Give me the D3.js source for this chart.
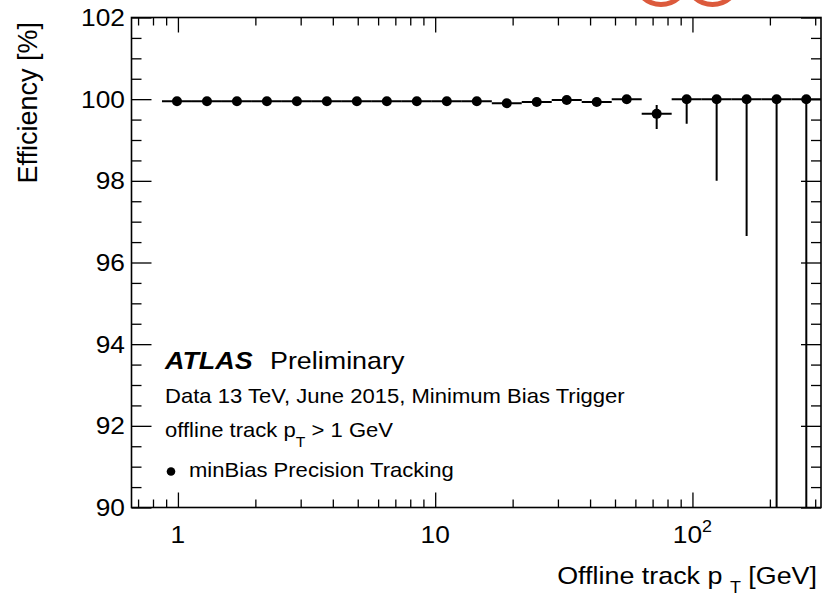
<!DOCTYPE html>
<html lang="en">

<head>
  <meta charset="UTF-8">
  <title>Efficiency</title>
  <style>
    body { margin: 0; background: #fff; }
    text { font-family: "Liberation Sans", Arial, Helvetica, sans-serif; fill: #000; }
  </style>
</head>

<body>
  <svg></svg>
  <script src="https://cdn.jsdelivr.net/npm/d3@7"></script>
  <script>
    // bin edges of the pT histogram (GeV)
    var binEdges = [0.867, 1.134, 1.483, 1.939, 2.536, 3.317, 4.338, 5.673, 7.419, 9.703, 12.69,
      16.60, 21.70, 28.38, 37.12, 48.55, 63.49, 83.03, 108.6, 142.0, 185.7, 242.9, 316];
    // efficiency per bin [%]
    var efficiency = [99.95, 99.95, 99.95, 99.95, 99.95, 99.95, 99.95, 99.95, 99.95, 99.95, 99.95,
      99.90, 99.93, 99.98, 99.93, 100.0, 99.64, 100.0, 100.0, 100.0, 100.0, 100.0];
    var errUp = [0.01, 0.01, 0.01, 0.01, 0.01, 0.01, 0.01, 0.01, 0.01, 0.01, 0.02,
      0.02, 0.02, 0.02, 0.03, 0, 0.22, 0, 0, 0, 0, 0];
    var errDown = [0.01, 0.01, 0.01, 0.01, 0.01, 0.01, 0.01, 0.01, 0.01, 0.01, 0.02,
      0.03, 0.03, 0.03, 0.04, 0.05, 0.37, 0.6, 2.0, 3.35, 60, 80];

    var yTicks = [90, 92, 94, 96, 98, 100, 102];
    var xMajor = [1, 10, 100];
    var xLabels = ["1", "10", "10^2"];

    var width = 823, height = 598;
    // plot frame (pixels)
    var fL = 131.5, fR = 821, fT = 17.5, fB = 507.5;
    var sx = 1.12; // horizontal stretch of the lettering

    var svg = d3.select("svg")
      .attr("width", width)
      .attr("height", height);

    var x = d3.scaleLog().domain([0.66, 316]).range([fL, fR]);
    var y = d3.scaleLinear().domain([90, 102]).range([fB, fT]);

    function label(g, px, py, size, anchor) {
      return g.append("text")
        .attr("transform", "translate(" + px + "," + py + ") scale(" + sx + ",1)")
        .attr("font-size", size + "px")
        .attr("text-anchor", anchor || "start");
    }

    // red circles cut off at the top
    svg.append("g").selectAll("circle")
      .data([661, 712.5])
      .join("circle")
      .attr("cx", d => d)
      .attr("cy", -22)
      .attr("r", 26.5)
      .attr("fill", "none")
      .attr("stroke", "#dc5a3c")
      .attr("stroke-width", 5);

    // ticks (ROOT style, inside the frame on all four sides)
    var xMinor = x.ticks().filter(d => xMajor.indexOf(d) < 0);
    var yMinor = d3.range(90, 102.01, 0.5).filter(d => yTicks.indexOf(d) < 0);

    function tickAxis(axis, values, size, tx, ty) {
      var g = svg.append("g")
        .attr("transform", "translate(" + tx + "," + ty + ")")
        .call(axis.tickValues(values).tickSize(size).tickFormat(""));
      g.select(".domain").remove();
      g.selectAll("line").attr("stroke", "#000").attr("stroke-width", 1.3);
    }
    tickAxis(d3.axisBottom(x), xMajor, -15, 0, fB);
    tickAxis(d3.axisBottom(x), xMinor, -8, 0, fB);
    tickAxis(d3.axisTop(x), xMajor, -15, 0, fT);
    tickAxis(d3.axisTop(x), xMinor, -8, 0, fT);
    tickAxis(d3.axisLeft(y), yTicks, -20, fL, 0);
    tickAxis(d3.axisLeft(y), yMinor, -10, fL, 0);
    tickAxis(d3.axisRight(y), yTicks, -20, fR, 0);
    tickAxis(d3.axisRight(y), yMinor, -10, fR, 0);

    // frame
    svg.append("rect")
      .attr("x", fL).attr("y", fT)
      .attr("width", fR - fL).attr("height", fB - fT)
      .attr("fill", "none")
      .attr("stroke", "#000")
      .attr("stroke-width", 1.6);

    // tick labels
    yTicks.forEach(function(d) {
      label(svg, 125, y(d), 23.5, "end")
        .attr("dy", "0.36em")
        .text(d);
    });
    xMajor.forEach(function(d, i) {
      var parts = xLabels[i].split("^");
      var t = label(svg, x(d), 543, 23.5, "middle");
      t.append("tspan").text(parts[0]);
      if (parts[1]) {
        t.append("tspan").attr("font-size", "16px").attr("dy", -11).text(parts[1]);
      }
    });

    // axis titles
    var xt = label(svg, 817, 584, 24, "end");
    xt.append("tspan").text("Offline track p ");
    xt.append("tspan").attr("font-size", "16px").attr("dy", 9).text("T");
    xt.append("tspan").attr("dy", -9).text(" [GeV]");

    svg.append("text")
      .attr("transform", "translate(37,22) rotate(-90)")
      .attr("font-size", "27px")
      .attr("text-anchor", "end")
      .text("Efficiency [%]");

    // data
    var bins = efficiency.map(function(v, i) {
      return {
        lo: binEdges[i],
        hi: binEdges[i + 1],
        c: Math.sqrt(binEdges[i] * binEdges[i + 1]),
        v: v,
        up: errUp[i],
        dn: errDown[i]
      };
    });

    svg.append("clipPath").attr("id", "plot")
      .append("rect")
      .attr("x", fL).attr("y", fT)
      .attr("width", fR - fL).attr("height", fB - fT);

    var data = svg.append("g").attr("clip-path", "url(#plot)");

    data.selectAll("line.hbar")
      .data(bins)
      .join("line")
      .attr("class", "hbar")
      .attr("x1", d => x(d.lo))
      .attr("x2", d => x(d.hi))
      .attr("y1", d => y(d.v))
      .attr("y2", d => y(d.v))
      .attr("stroke", "#000")
      .attr("stroke-width", 2);

    data.selectAll("line.vbar")
      .data(bins)
      .join("line")
      .attr("class", "vbar")
      .attr("x1", d => x(d.c))
      .attr("x2", d => x(d.c))
      .attr("y1", d => y(d.v + d.up))
      .attr("y2", d => y(d.v - d.dn))
      .attr("stroke", "#000")
      .attr("stroke-width", 2);

    data.selectAll("circle")
      .data(bins)
      .join("circle")
      .attr("cx", d => x(d.c))
      .attr("cy", d => y(d.v))
      .attr("r", 5)
      .attr("fill", "#000");

    // legend
    var leg = svg.append("g");
    label(leg, 165, 369, 24).attr("font-weight", "bold").attr("font-style", "italic").text("ATLAS");
    label(leg, 270, 369, 24).text("Preliminary");
    label(leg, 165, 403, 19.7).text("Data 13 TeV, June 2015, Minimum Bias Trigger");
    var l3 = label(leg, 165, 437, 19.7);
    l3.append("tspan").text("offline track p");
    l3.append("tspan").attr("font-size", "14px").attr("dy", 10).text("T");
    l3.append("tspan").attr("dy", -10).text(" > 1 GeV");
    leg.append("circle").attr("cx", 171).attr("cy", 471.5).attr("r", 4.3).attr("fill", "#000");
    label(leg, 189, 477, 19.7).text("minBias Precision Tracking");
  </script>
</body>

</html>
